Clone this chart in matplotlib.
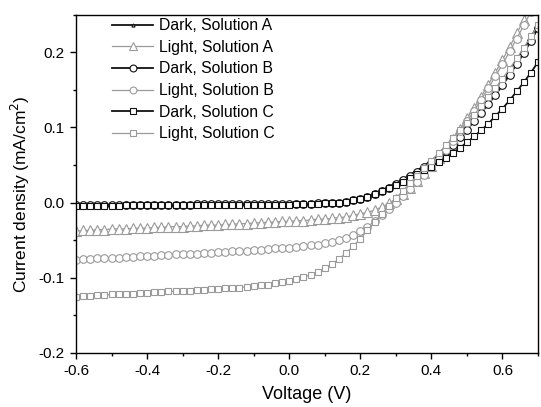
import numpy as np
import matplotlib
matplotlib.use("Agg")
import matplotlib.pyplot as plt
from matplotlib.ticker import MultipleLocator

plt.rcParams['font.family'] = ['Liberation Sans', 'DejaVu Sans']
plt.rcParams['axes.unicode_minus'] = False

voltage = [-0.60, -0.58, -0.56, -0.54, -0.52, -0.50, -0.48, -0.46, -0.44, -0.42, -0.40,
           -0.38, -0.36, -0.34, -0.32, -0.30, -0.28, -0.26, -0.24, -0.22, -0.20,
           -0.18, -0.16, -0.14, -0.12, -0.10, -0.08, -0.06, -0.04, -0.02,
           0.00, 0.02, 0.04, 0.06, 0.08, 0.10, 0.12, 0.14, 0.16, 0.18,
           0.20, 0.22, 0.24, 0.26, 0.28, 0.30, 0.32, 0.34, 0.36, 0.38, 0.40,
           0.42, 0.44, 0.46, 0.48, 0.50, 0.52, 0.54, 0.56, 0.58, 0.60,
           0.62, 0.64, 0.66, 0.68, 0.70]

dark_a = [-0.004, -0.004, -0.004, -0.004, -0.004, -0.004, -0.004, -0.003, -0.003, -0.003, -0.003,
          -0.003, -0.003, -0.003, -0.003, -0.003, -0.003, -0.003, -0.003, -0.003, -0.003,
          -0.003, -0.003, -0.003, -0.003, -0.003, -0.003, -0.003, -0.003, -0.003,
          -0.003, -0.002, -0.002, -0.002, -0.002, -0.001, -0.001, 0.000, 0.001, 0.003,
          0.005, 0.008, 0.012, 0.016, 0.021, 0.026, 0.031, 0.037, 0.043, 0.049, 0.056,
          0.063, 0.071, 0.080, 0.090, 0.100, 0.111, 0.122, 0.134, 0.147, 0.160,
          0.174, 0.189, 0.204, 0.220, 0.237]

light_a = [-0.038, -0.037, -0.037, -0.036, -0.036, -0.035, -0.035, -0.035, -0.034, -0.034, -0.034,
           -0.033, -0.033, -0.032, -0.032, -0.032, -0.031, -0.031, -0.030, -0.030, -0.030,
           -0.029, -0.029, -0.028, -0.028, -0.027, -0.027, -0.026, -0.026, -0.025,
           -0.025, -0.024, -0.024, -0.023, -0.022, -0.022, -0.021, -0.020, -0.019, -0.017,
           -0.015, -0.013, -0.010, -0.006, -0.001, 0.005, 0.012, 0.020, 0.029, 0.039, 0.049,
           0.060, 0.072, 0.085, 0.098, 0.112, 0.126, 0.141, 0.157, 0.173, 0.190,
           0.207, 0.225, 0.243, 0.262, 0.281]

dark_b = [-0.003, -0.003, -0.003, -0.003, -0.003, -0.003, -0.003, -0.003, -0.003, -0.003, -0.003,
          -0.003, -0.003, -0.003, -0.003, -0.003, -0.003, -0.002, -0.002, -0.002, -0.002,
          -0.002, -0.002, -0.002, -0.002, -0.002, -0.002, -0.002, -0.002, -0.002,
          -0.002, -0.002, -0.002, -0.002, -0.001, -0.001, -0.001, 0.000, 0.001, 0.003,
          0.005, 0.008, 0.011, 0.015, 0.020, 0.025, 0.030, 0.036, 0.041, 0.047, 0.053,
          0.060, 0.068, 0.077, 0.087, 0.097, 0.108, 0.119, 0.131, 0.143, 0.156,
          0.170, 0.184, 0.199, 0.215, 0.232]

light_b = [-0.076, -0.075, -0.075, -0.074, -0.074, -0.073, -0.073, -0.072, -0.072, -0.071, -0.071,
           -0.071, -0.070, -0.070, -0.069, -0.069, -0.068, -0.068, -0.067, -0.067, -0.066,
           -0.066, -0.065, -0.065, -0.064, -0.063, -0.063, -0.062, -0.061, -0.061,
           -0.060, -0.059, -0.058, -0.057, -0.056, -0.054, -0.052, -0.050, -0.047, -0.043,
           -0.038, -0.032, -0.025, -0.017, -0.009, 0.000, 0.009, 0.018, 0.027, 0.037, 0.047,
           0.058, 0.070, 0.082, 0.095, 0.108, 0.122, 0.137, 0.152, 0.168, 0.184,
           0.201, 0.218, 0.236, 0.254, 0.273]

dark_c = [-0.004, -0.004, -0.004, -0.004, -0.004, -0.004, -0.004, -0.003, -0.003, -0.003, -0.003,
          -0.003, -0.003, -0.003, -0.003, -0.003, -0.003, -0.003, -0.003, -0.003, -0.003,
          -0.003, -0.003, -0.003, -0.003, -0.003, -0.003, -0.003, -0.003, -0.003,
          -0.003, -0.002, -0.002, -0.002, -0.002, -0.001, -0.001, 0.000, 0.001, 0.003,
          0.005, 0.008, 0.011, 0.015, 0.019, 0.023, 0.028, 0.033, 0.038, 0.043, 0.048,
          0.054, 0.060, 0.066, 0.073, 0.080, 0.088, 0.096, 0.105, 0.115, 0.125,
          0.136, 0.148, 0.160, 0.173, 0.187]

light_c = [-0.125, -0.124, -0.124, -0.123, -0.123, -0.122, -0.122, -0.121, -0.121, -0.120, -0.120,
           -0.119, -0.119, -0.118, -0.118, -0.117, -0.117, -0.116, -0.116, -0.115, -0.115,
           -0.114, -0.114, -0.113, -0.112, -0.111, -0.110, -0.109, -0.107, -0.106,
           -0.104, -0.102, -0.099, -0.096, -0.092, -0.087, -0.082, -0.075, -0.067, -0.058,
           -0.048, -0.037, -0.026, -0.015, -0.004, 0.006, 0.016, 0.026, 0.036, 0.046, 0.056,
           0.066, 0.076, 0.086, 0.096, 0.106, 0.117, 0.128, 0.140, 0.152, 0.165,
           0.178, 0.192, 0.206, 0.221, 0.236]

labels = ["Dark, Solution A", "Light, Solution A", "Dark, Solution B",
          "Light, Solution B", "Dark, Solution C", "Light, Solution C"]

DARK = "#111111"
LIGHT = "#9a9a9a"

fig = plt.figure(figsize=(5.41, 4.07), dpi=100)
ax = fig.add_axes([0.1405, 0.1327, 0.854, 0.8313])

series = [
    (dark_a, DARK, "^", 2.5, 1.3),
    (light_a, LIGHT, "^", 6.5, 0.9),
    (dark_b, DARK, "o", 5.5, 1.3),
    (light_b, LIGHT, "o", 5.5, 0.9),
    (dark_c, DARK, "s", 5.0, 1.3),
    (light_c, LIGHT, "s", 5.0, 0.9),
]
for (vals, col, mk, ms, lw), lab in zip(series, labels):
    ax.plot(voltage, vals, color=col, lw=lw, marker=mk, ms=ms,
            mfc="white", mec=col, mew=0.8, label=lab)

ax.set_xlim(-0.6, 0.7)
ax.set_ylim(-0.2, 0.25)
ax.xaxis.set_major_locator(MultipleLocator(0.2))
ax.xaxis.set_minor_locator(MultipleLocator(0.1))
ax.yaxis.set_major_locator(MultipleLocator(0.1))
ax.yaxis.set_minor_locator(MultipleLocator(0.05))
ax.tick_params(which="major", direction="out", length=4.5, width=1, labelsize=11)
ax.tick_params(which="minor", direction="out", length=2.5, width=1)
for s in ax.spines.values():
    s.set_linewidth(1.0)

ax.set_xlabel("Voltage (V)", fontsize=13, labelpad=6)
ax.set_ylabel("Current density (mA/cm$^2$)", fontsize=12.5)
ax.yaxis.set_label_coords(-0.095, 0.47)

ax.legend(loc="upper left", bbox_to_anchor=(0.065, 1.008), frameon=False,
          fontsize=11.3, handlelength=2.6, handletextpad=0.35,
          labelspacing=0.42, borderaxespad=0.0, markerscale=0.9)

fig.savefig("out.png", dpi=100)
